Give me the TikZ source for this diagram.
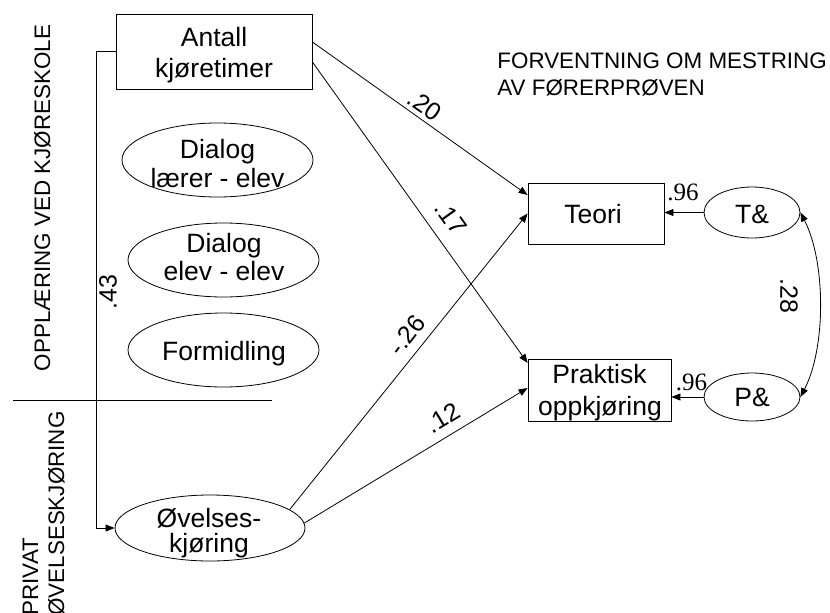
\documentclass[tikz,border=0pt]{standalone}
\usepackage{fontspec}
\setmainfont{Liberation Sans}
\newfontfamily\coeffont{Liberation Serif}
\usetikzlibrary{shapes.geometric,arrows.meta}

\begin{document}
\begin{tikzpicture}[x=1pt,y=-1pt,
  line width=0.8pt,
  box/.style={draw, rectangle, inner sep=0pt},
  oval/.style={draw, ellipse, inner sep=0pt},
  nodetext/.style={inner sep=0pt, anchor=base, font=\fontsize{26.5}{31}\selectfont},
  headtext/.style={inner sep=0pt, font=\fontsize{22.4}{27}\selectfont},
  weight/.style={inner sep=0pt, font=\fontsize{25}{30}\selectfont},
  resid/.style={inner sep=0pt, anchor=base, font=\coeffont\fontsize{25}{30}\selectfont},
  arr/.style={-{Triangle[length=9pt,width=7pt]}},
  dblarr/.style={{Triangle[length=9pt,width=7pt]}-{Triangle[length=9pt,width=7pt]}},
]
\useasboundingbox (0,0) rectangle (830,613);

% ---- predictors: driving school block ----
\node[box, minimum width=196pt, minimum height=75pt] (ant) at (214,51.5) {};
\node[nodetext] (antA) at (214,46) {Antall};
\node[nodetext] (antB) at (214,77) {kjøretimer};

\node[oval, minimum width=191pt, minimum height=74pt] (dle) at (217.5,160) {};
\node[nodetext] (dleA) at (217.5,158) {Dialog};
\node[nodetext] (dleB) at (217.5,187) {lærer - elev};

\node[oval, minimum width=191pt, minimum height=74pt] (dee) at (223.5,260) {};
\node[nodetext] (deeA) at (224,252) {Dialog};
\node[nodetext] (deeB) at (224,280) {elev - elev};

\node[oval, minimum width=191pt, minimum height=74pt] (form) at (223.5,350) {};
\node[nodetext] (formA) at (224,360) {Formidling};

% ---- predictor: private practice ----
\node[oval, minimum width=190pt, minimum height=66pt] (ovk) at (210,528) {};
\node[nodetext] (ovkA) at (209,527) {Øvelses-};
\node[nodetext] (ovkB) at (209,552) {kjøring};

% ---- outcomes ----
\node[box, minimum width=136pt, minimum height=61pt] (teo) at (596,213.5) {};
\node[nodetext] (teoA) at (593,223) {Teori};

\node[box, minimum width=143pt, minimum height=62pt] (prk) at (599.5,390) {};
\node[nodetext] (prkA) at (599.5,383) {Praktisk};
\node[nodetext] (prkB) at (600,415) {oppkjøring};

% ---- residuals ----
\node[oval, minimum width=96pt, minimum height=51pt] (tres) at (752,212.5) {};
\node[nodetext] (tresA) at (752,223) {T\&};
\node[oval, minimum width=96pt, minimum height=48pt] (pres) at (752,397) {};
\node[nodetext] (presA) at (752,406) {P\&};

% ---- section headings ----
\node[headtext, anchor=north west, align=left] (head) at (497,52)
  {FORVENTNING OM MESTRING\\AV FØRERPRØVEN};
\node[headtext, anchor=base, rotate=90] (skole) at (50,198) {OPPLÆRING VED KJØRESKOLE};
\node[headtext, anchor=base west, rotate=90] (privA) at (38,616) {PRIVAT};
\node[headtext, anchor=base west, rotate=90] (privB) at (64,616) {ØVELSESKJØRING};

% divider between the two blocks
\coordinate (divL) at (13,400);
\coordinate (divR) at (272,400);
\draw (divL) -- (divR);

% ---- paths ----
\draw[arr] (ant.west) -- ++(-19,0) |- (ovk.west);
\draw[arr] ([yshift=9.5pt]ant.east) -- ([yshift=18.5pt]teo.west);
\draw[arr] ([yshift=-10.5pt]ant.east) -- ([yshift=27pt]prk.west);
\draw[arr] (ovk.13) -- (teo.west);
\draw[arr] (ovk.3) -- ([yshift=2pt]prk.west);
\draw[arr] (tres.west) -- (tres.west -| teo.east);
\draw[arr] (pres.west) -- (pres.west -| prk.east);
\draw[dblarr] (tres.east) .. controls (826,262) and (826,348) .. (pres.east);

% ---- coefficients ----
\node[weight, rotate=-35] (w1) at (425,105) {.20};
\node[weight, rotate=-54.5] (w2) at (451,218) {.17};
\node[weight, rotate=52] (w3) at (407,335) {-.26};
\node[weight, rotate=31] (w4) at (443,418) {.12};
\node[weight, rotate=90] (w5) at (108,292) {.43};
\node[weight, rotate=-90] (w6) at (789,296) {.28};
\node[resid] (r1) at (683,200) {.96};
\node[resid] (r2) at (691.5,390) {.96};
\end{tikzpicture}
\end{document}
